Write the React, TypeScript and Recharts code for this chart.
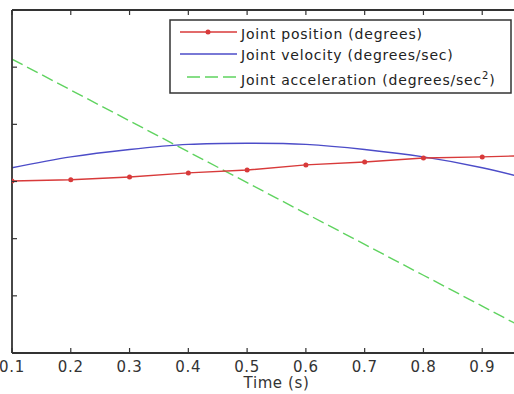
import React from 'react';
import { LineChart, Line, XAxis, YAxis } from 'recharts';

const time = [0.1, 0.2, 0.3, 0.4, 0.5, 0.6, 0.7, 0.8, 0.9, 1.0];
const position = [0.01, 0.03, 0.08, 0.15, 0.2, 0.29, 0.34, 0.41, 0.43, 0.46];
const velocity = [0.24, 0.43, 0.56, 0.65, 0.67, 0.65, 0.56, 0.43, 0.24, -0.01];
const acceleration = [2.14, 1.6, 1.06, 0.52, -0.02, -0.56, -1.1, -1.64, -2.18, -2.72];
const yTicks = [-3, -2, -1, 0, 1, 2, 3];
const xLabel = 'Time (s)';
const legendLabels = ['Joint position (degrees)', 'Joint velocity (degrees/sec)', 'Joint acceleration (degrees/sec'];

const data = time.map((t, i) => ({ t, pos: position[i], vel: velocity[i], acc: acceleration[i] }));

const FONT = '"DejaVu Sans", sans-serif';
const AXIS = '#333';
const RED = '#d83a3a';
const BLUE = '#4c4cc8';
const GREEN = '#5fd35f';

const BottomTick = (props: any) => {
  const { x, y, payload } = props;
  const visibleLabel = x < 500;
  return (
    <g>
      <line x1={x} y1={y} x2={x} y2={y - 5} stroke={AXIS} strokeWidth={1.2} />
      {visibleLabel && (
        <text x={x} y={y + 19} textAnchor="middle" fontFamily={FONT} fontSize={15} letterSpacing={0.7} fill="#333">
          {Number(payload.value).toFixed(1)}
        </text>
      )}
    </g>
  );
};

const TopTick = (props: any) => {
  const { x, y } = props;
  return <line x1={x} y1={y} x2={x} y2={y + 5} stroke={AXIS} strokeWidth={1.2} />;
};

const LeftTick = (props: any) => {
  const { x, y } = props;
  return <line x1={x} y1={y} x2={x + 5} y2={y} stroke={AXIS} strokeWidth={1.2} />;
};

const TimeLabel = (props: any) => {
  const vb = props.viewBox || {};
  const cx = vb.x + vb.width / 2;
  return (
    <text x={cx} y={vb.y + vb.height - 6} textAnchor="middle" fontFamily={FONT} fontSize={15} letterSpacing={0.6} fill="#333">
      {xLabel}
    </text>
  );
};

const LegendBox = () => (
  <svg width={344} height={76} style={{ position: 'absolute', left: 169, top: 19 }}>
    <rect x={1} y={1} width={341} height={73} fill="#fff" stroke={AXIS} strokeWidth={1.5} />
    <line x1={11} y1={13} x2={68} y2={13} stroke={RED} strokeWidth={1.3} />
    <circle cx={39} cy={13} r={2.5} fill={RED} />
    <text x={72} y={20} fontFamily={FONT} fontSize={14} letterSpacing={0.8} fill="#222">{legendLabels[0]}</text>
    <line x1={11} y1={35} x2={68} y2={35} stroke={BLUE} strokeWidth={1.3} />
    <text x={72} y={41} fontFamily={FONT} fontSize={14} letterSpacing={0.8} fill="#222">{legendLabels[1]}</text>
    <line x1={18} y1={58} x2={68} y2={58} stroke={GREEN} strokeWidth={1.3} strokeDasharray="13 5" />
    <text x={72} y={66} fontFamily={FONT} fontSize={14} letterSpacing={0.8} fill="#222">
      {legendLabels[2]}
      <tspan dy={-6} fontSize={10}>2</tspan>
      <tspan dy={6}>)</tspan>
    </text>
  </svg>
);

export default function App() {
  return (
    <div style={{ position: 'absolute', left: 0, top: 0, width: 514, height: 394, overflow: 'hidden', background: '#fff' }}>
      <LineChart width={545} height={394} data={data} margin={{ top: 0, right: 4, bottom: 0, left: 2 }}>
        <XAxis
          xAxisId="b"
          dataKey="t"
          type="number"
          domain={[0.1, 1.0]}
          ticks={time}
          interval={0}
          height={41}
          tickSize={0}
          tickMargin={0}
          tickLine={false}
          tick={<BottomTick />}
          axisLine={{ stroke: AXIS, strokeWidth: 1.8 }}
          allowDataOverflow
          label={<TimeLabel />}
        />
        <XAxis
          xAxisId="top"
          orientation="top"
          dataKey="t"
          type="number"
          domain={[0.1, 1.0]}
          ticks={time}
          interval={0}
          height={10}
          tickSize={0}
          tickMargin={0}
          tickLine={false}
          tick={<TopTick />}
          axisLine={{ stroke: AXIS, strokeWidth: 1.8 }}
          allowDataOverflow
        />
        <YAxis
          type="number"
          domain={[-3, 3]}
          ticks={yTicks}
          interval={0}
          width={10}
          tickSize={0}
          tickMargin={0}
          tickLine={false}
          tick={<LeftTick />}
          axisLine={{ stroke: AXIS, strokeWidth: 1.8 }}
          allowDataOverflow
        />
        <Line xAxisId="b" type="linear" dataKey="acc" stroke={GREEN} strokeWidth={1.4} strokeDasharray="12 5" dot={false} isAnimationActive={false} />
        <Line xAxisId="b" type="natural" dataKey="vel" stroke={BLUE} strokeWidth={1.4} dot={false} isAnimationActive={false} />
        <Line xAxisId="b" type="linear" dataKey="pos" stroke={RED} strokeWidth={1.4} dot={{ r: 2.5, fill: RED, stroke: RED, strokeWidth: 0 }} isAnimationActive={false} />
      </LineChart>
      <LegendBox />
    </div>
  );
}
